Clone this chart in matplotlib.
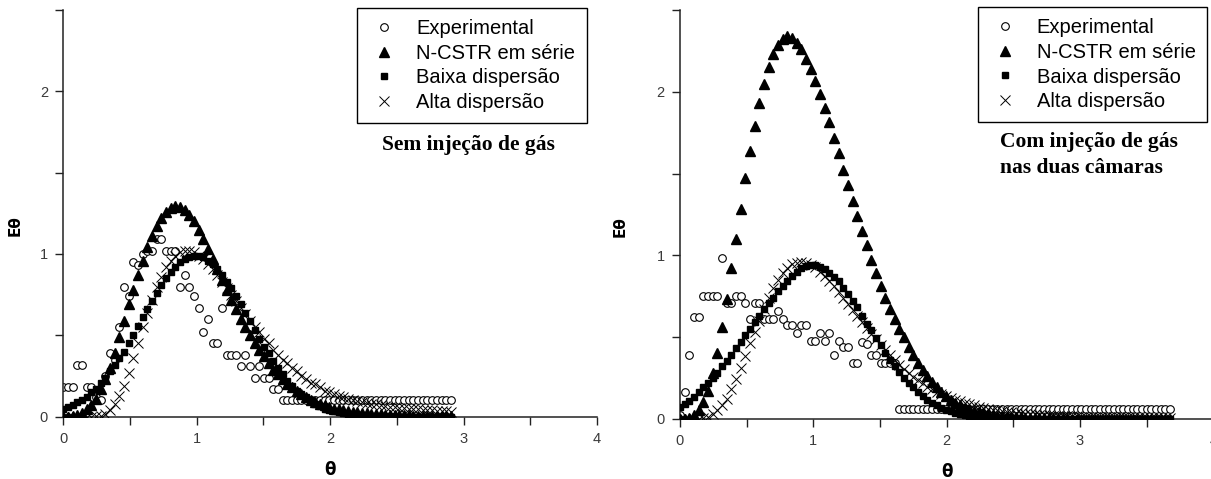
"""Distribuicao de tempos de residencia: experimental vs modelos (2 paineis)."""

import matplotlib

matplotlib.use("Agg")
import matplotlib.pyplot as plt
from matplotlib.ticker import MultipleLocator

FIG_W, FIG_H, DPI = 12.11, 4.79, 100

SANS = "Liberation Sans"
SERIF = "Liberation Serif"

# theta grid (shared by every series, same spacing in both panels)
theta = [
    0.000, 0.035, 0.070, 0.105, 0.140, 0.175, 0.210, 0.245, 0.280, 0.315,
    0.350, 0.385, 0.420, 0.455, 0.490, 0.525, 0.560, 0.595, 0.630, 0.665,
    0.700, 0.735, 0.770, 0.805, 0.840, 0.875, 0.910, 0.945, 0.980, 1.015,
    1.050, 1.085, 1.120, 1.155, 1.190, 1.225, 1.260, 1.295, 1.330, 1.365,
    1.400, 1.435, 1.470, 1.505, 1.540, 1.575, 1.610, 1.645, 1.680, 1.715,
    1.750, 1.785, 1.820, 1.855, 1.890, 1.925, 1.960, 1.995, 2.030, 2.065,
    2.100, 2.135, 2.170, 2.205, 2.240, 2.275, 2.310, 2.345, 2.380, 2.415,
    2.450, 2.485, 2.520, 2.555, 2.590, 2.625, 2.660, 2.695, 2.730, 2.765,
    2.800, 2.835, 2.870, 2.905, 2.940, 2.975, 3.010, 3.045, 3.080, 3.115,
    3.150, 3.185, 3.220, 3.255, 3.290, 3.325, 3.360, 3.395, 3.430, 3.465,
    3.500, 3.535, 3.570, 3.605, 3.640, 3.675,
]

# --- Sem injecao de gas (84 points) ---
sem_experimental = [
    0.18, 0.18, 0.18, 0.32, 0.32, 0.18, 0.18, 0.12, 0.10, 0.25,
    0.39, 0.35, 0.55, 0.80, 0.74, 0.95, 0.93, 1.00, 1.02, 1.02,
    1.09, 1.09, 1.02, 1.02, 1.02, 0.80, 0.87, 0.80, 0.74, 0.67,
    0.52, 0.60, 0.45, 0.45, 0.67, 0.38, 0.38, 0.38, 0.31, 0.38,
    0.31, 0.24, 0.31, 0.24, 0.24, 0.17, 0.17, 0.10, 0.10, 0.10,
    0.10, 0.10, 0.10, 0.10, 0.10, 0.10, 0.10, 0.10, 0.10, 0.10,
    0.10, 0.10, 0.10, 0.10, 0.10, 0.10, 0.10, 0.10, 0.10, 0.10,
    0.10, 0.10, 0.10, 0.10, 0.10, 0.10, 0.10, 0.10, 0.10, 0.10,
    0.10, 0.10, 0.10, 0.10,
]
sem_ncstr = [
    0.00, 0.00, 0.005, 0.01, 0.025, 0.045, 0.07, 0.11, 0.17, 0.23,
    0.30, 0.39, 0.49, 0.59, 0.69, 0.78, 0.87, 0.96, 1.04, 1.11,
    1.17, 1.22, 1.26, 1.285, 1.295, 1.29, 1.27, 1.24, 1.20, 1.15,
    1.09, 1.03, 0.97, 0.91, 0.84, 0.78, 0.72, 0.66, 0.60, 0.55,
    0.50, 0.45, 0.41, 0.37, 0.33, 0.29, 0.26, 0.23, 0.20, 0.18,
    0.16, 0.14, 0.12, 0.105, 0.09, 0.08, 0.07, 0.06, 0.05, 0.045,
    0.04, 0.035, 0.03, 0.027, 0.024, 0.021, 0.019, 0.017, 0.015, 0.013,
    0.012, 0.011, 0.010, 0.009, 0.008, 0.007, 0.007, 0.006, 0.006, 0.005,
    0.005, 0.004, 0.004, 0.004,
]
sem_baixa = [
    0.05, 0.06, 0.07, 0.09, 0.10, 0.12, 0.15, 0.17, 0.21, 0.24,
    0.28, 0.32, 0.36, 0.40, 0.45, 0.50, 0.56, 0.61, 0.66, 0.71,
    0.76, 0.81, 0.85, 0.89, 0.92, 0.95, 0.97, 0.98, 0.99, 0.99,
    0.98, 0.96, 0.94, 0.91, 0.87, 0.83, 0.79, 0.74, 0.69, 0.64,
    0.59, 0.53, 0.48, 0.43, 0.39, 0.34, 0.30, 0.26, 0.22, 0.19,
    0.16, 0.14, 0.12, 0.10, 0.08, 0.065, 0.05, 0.04, 0.035, 0.03,
    0.02, 0.015, 0.012, 0.010, 0.008, 0.006, 0.005, 0.004, 0.003, 0.002,
    0.002, 0.001, 0.001, 0.0, 0.0, 0.0, 0.0, 0.0, 0.0, 0.0,
    0.0, 0.0, 0.0, 0.0,
]
sem_alta = [
    0.00, 0.00, 0.00, 0.00, 0.00, 0.00, 0.001, 0.002, 0.006, 0.017,
    0.04, 0.075, 0.13, 0.19, 0.27, 0.36, 0.45, 0.55, 0.64, 0.72,
    0.80, 0.86, 0.92, 0.96, 0.99, 1.01, 1.02, 1.02, 1.01, 0.99,
    0.97, 0.94, 0.91, 0.87, 0.83, 0.79, 0.75, 0.71, 0.67, 0.63,
    0.59, 0.55, 0.52, 0.48, 0.45, 0.41, 0.38, 0.35, 0.33, 0.30,
    0.28, 0.25, 0.23, 0.21, 0.20, 0.18, 0.16, 0.15, 0.14, 0.13,
    0.12, 0.11, 0.10, 0.095, 0.09, 0.085, 0.08, 0.075, 0.07, 0.066,
    0.062, 0.058, 0.055, 0.052, 0.05, 0.047, 0.045, 0.043, 0.041, 0.039,
    0.037, 0.035, 0.033, 0.031,
]

# --- Com injecao de gas nas duas camaras (106 points) ---
com_experimental = [
    0.02, 0.16, 0.39, 0.62, 0.62, 0.75, 0.75, 0.75, 0.75, 0.98,
    0.705, 0.705, 0.75, 0.75, 0.705, 0.61, 0.705, 0.705, 0.61, 0.61,
    0.61, 0.66, 0.61, 0.57, 0.57, 0.525, 0.57, 0.57, 0.475, 0.475,
    0.525, 0.475, 0.525, 0.39, 0.475, 0.435, 0.435, 0.34, 0.34, 0.47,
    0.455, 0.39, 0.39, 0.34, 0.34, 0.34, 0.34, 0.06, 0.06, 0.06,
    0.06, 0.06, 0.06, 0.06, 0.06, 0.06, 0.06, 0.06, 0.06, 0.06,
    0.06, 0.06, 0.06, 0.06, 0.06, 0.06, 0.06, 0.06, 0.06, 0.06,
    0.06, 0.06, 0.06, 0.06, 0.06, 0.06, 0.06, 0.06, 0.06, 0.06,
    0.06, 0.06, 0.06, 0.06, 0.06, 0.06, 0.06, 0.06, 0.06, 0.06,
    0.06, 0.06, 0.06, 0.06, 0.06, 0.06, 0.06, 0.06, 0.06, 0.06,
    0.06, 0.06, 0.06, 0.06, 0.06, 0.06,
]
com_ncstr = [
    0.00, 0.00, 0.005, 0.02, 0.05, 0.10, 0.17, 0.28, 0.40, 0.56,
    0.73, 0.92, 1.10, 1.28, 1.47, 1.64, 1.79, 1.93, 2.05, 2.15,
    2.23, 2.29, 2.325, 2.34, 2.33, 2.30, 2.26, 2.20, 2.14, 2.065,
    1.99, 1.90, 1.815, 1.72, 1.625, 1.52, 1.43, 1.33, 1.24, 1.15,
    1.06, 0.97, 0.89, 0.81, 0.74, 0.67, 0.61, 0.55, 0.50, 0.44,
    0.39, 0.34, 0.30, 0.26, 0.225, 0.19, 0.16, 0.135, 0.115, 0.095,
    0.08, 0.067, 0.056, 0.047, 0.039, 0.032, 0.027, 0.022, 0.018, 0.015,
    0.012, 0.010, 0.008, 0.007, 0.006, 0.005, 0.004, 0.003, 0.003, 0.002,
    0.002, 0.001, 0.001, 0.001, 0.0, 0.0, 0.0, 0.0, 0.0, 0.0,
    0.0, 0.0, 0.0, 0.0, 0.0, 0.0, 0.0, 0.0, 0.0, 0.0,
    0.0, 0.0, 0.0, 0.0, 0.0, 0.0,
]
com_baixa = [
    0.07, 0.09, 0.11, 0.13, 0.16, 0.19, 0.22, 0.25, 0.28, 0.32,
    0.35, 0.39, 0.43, 0.47, 0.51, 0.55, 0.59, 0.63, 0.67, 0.71,
    0.74, 0.78, 0.81, 0.84, 0.87, 0.90, 0.92, 0.935, 0.94, 0.94,
    0.93, 0.915, 0.89, 0.865, 0.84, 0.80, 0.76, 0.72, 0.68, 0.63,
    0.58, 0.54, 0.49, 0.45, 0.40, 0.36, 0.32, 0.285, 0.25, 0.22,
    0.19, 0.16, 0.135, 0.115, 0.095, 0.08, 0.065, 0.053, 0.043, 0.034,
    0.027, 0.021, 0.017, 0.013, 0.010, 0.008, 0.006, 0.005, 0.004, 0.003,
    0.002, 0.001, 0.0, 0.0, 0.0, 0.0, 0.0, 0.0, 0.0, 0.0,
    0.0, 0.0, 0.0, 0.0, 0.0, 0.0, 0.0, 0.0, 0.0, 0.0,
    0.0, 0.0, 0.0, 0.0, 0.0, 0.0, 0.0, 0.0, 0.0, 0.0,
    0.0, 0.0, 0.0, 0.0, 0.0, 0.0,
]
com_alta = [
    0.00, 0.00, 0.00, 0.00, 0.00, 0.005, 0.01, 0.025, 0.05, 0.08,
    0.12, 0.18, 0.24, 0.31, 0.38, 0.46, 0.53, 0.60, 0.67, 0.74,
    0.80, 0.85, 0.89, 0.92, 0.945, 0.955, 0.96, 0.955, 0.94, 0.925,
    0.90, 0.875, 0.845, 0.81, 0.775, 0.74, 0.70, 0.665, 0.625, 0.59,
    0.555, 0.52, 0.485, 0.45, 0.42, 0.39, 0.36, 0.33, 0.305, 0.28,
    0.255, 0.235, 0.215, 0.195, 0.18, 0.165, 0.15, 0.135, 0.125, 0.115,
    0.105, 0.095, 0.087, 0.08, 0.073, 0.066, 0.06, 0.055, 0.05, 0.046,
    0.042, 0.038, 0.035, 0.032, 0.029, 0.027, 0.025, 0.023, 0.021, 0.019,
    0.018, 0.017, 0.016, 0.015, 0.014, 0.013, 0.012, 0.011, 0.011, 0.010,
    0.010, 0.009, 0.009, 0.008, 0.008, 0.007, 0.007, 0.007, 0.006, 0.006,
    0.006, 0.005, 0.005, 0.005, 0.005, 0.005,
]

LABELS = ["Experimental", "N-CSTR em série", "Baixa dispersão", "Alta dispersão"]

LEFT_RECT = [0.0523, 0.1301, 0.4406, 0.8491]
RIGHT_RECT = [0.5614, 0.1263, 0.4406, 0.8523]


def style_axis(ax):
    ax.set_xlim(0, 4)
    ax.set_ylim(0, 2.5)
    ax.xaxis.set_major_locator(MultipleLocator(1))
    ax.xaxis.set_minor_locator(MultipleLocator(0.5))
    ax.yaxis.set_major_locator(MultipleLocator(1))
    ax.yaxis.set_minor_locator(MultipleLocator(0.5))
    for side in ("top", "right"):
        ax.spines[side].set_visible(False)
    for side in ("left", "bottom"):
        ax.spines[side].set_linewidth(1.1)
        ax.spines[side].set_color("#222222")
    ax.tick_params(which="both", direction="out", length=6, width=1.0,
                   color="#222222", labelsize=10.5, labelcolor="#3a3a3a", pad=5)
    for lab in ax.get_xticklabels() + ax.get_yticklabels():
        lab.set_family(SANS)
    ax.set_xlabel("θ", fontsize=12, fontweight="bold", family="DejaVu Sans")
    ax.set_ylabel("Eθ", fontsize=11, fontweight="bold", family="DejaVu Sans")


def plot_panel(ax, n, exp, ncstr, baixa, alta):
    x = theta[:n]
    ax.plot(x, exp, linestyle="none", marker="o", ms=5.5, mfc="white",
            mec="black", mew=0.8, label=LABELS[0], zorder=2)
    ax.plot(x, ncstr, linestyle="none", marker="^", ms=7.5, color="black",
            label=LABELS[1], zorder=3)
    ax.plot(x, baixa, linestyle="none", marker="s", ms=5, color="black",
            label=LABELS[2], zorder=4)
    ax.plot(x, alta, linestyle="none", marker="x", ms=6.5, color="black",
            mew=0.7, label=LABELS[3], zorder=5)
    style_axis(ax)


def add_legend(ax, anchor):
    leg = ax.legend(loc="upper right", bbox_to_anchor=anchor, borderaxespad=0,
                    frameon=True, fancybox=False, framealpha=1, edgecolor="black",
                    prop={"family": SANS, "size": 14.5}, labelspacing=0.28,
                    borderpad=0.56, handlelength=1.56, handletextpad=0.81)
    leg.get_frame().set_linewidth(1.0)
    return leg


def main():
    fig = plt.figure(figsize=(FIG_W, FIG_H), dpi=DPI)
    fig.patch.set_facecolor("white")

    ax_l = fig.add_axes(LEFT_RECT)
    n_sem = len(sem_experimental)
    plot_panel(ax_l, n_sem, sem_experimental, sem_ncstr, sem_baixa, sem_alta)
    add_legend(ax_l, (0.981, 1.005))
    ax_l.text(0.759, 0.668, "Sem injeção de gás", transform=ax_l.transAxes,
              ha="center", va="center", family=SERIF, fontweight="bold", fontsize=15.5)
    ax_l.xaxis.set_label_coords(0.5, -0.108)
    ax_l.yaxis.set_label_coords(-0.077, 0.47)

    ax_r = fig.add_axes(RIGHT_RECT)
    n_com = len(com_experimental)
    plot_panel(ax_r, n_com, com_experimental, com_ncstr, com_baixa, com_alta)
    add_legend(ax_r, (0.988, 1.008))
    ax_r.text(0.767, 0.645, "Com injeção de gás\nnas duas câmaras", transform=ax_r.transAxes,
              ha="center", va="center", multialignment="left", linespacing=1.4,
              family=SERIF, fontweight="bold", fontsize=15.5)
    ax_r.xaxis.set_label_coords(0.5, -0.108)
    ax_r.yaxis.set_label_coords(-0.097, 0.47)

    fig.savefig("out.png", dpi=DPI)


if __name__ == "__main__":
    main()
